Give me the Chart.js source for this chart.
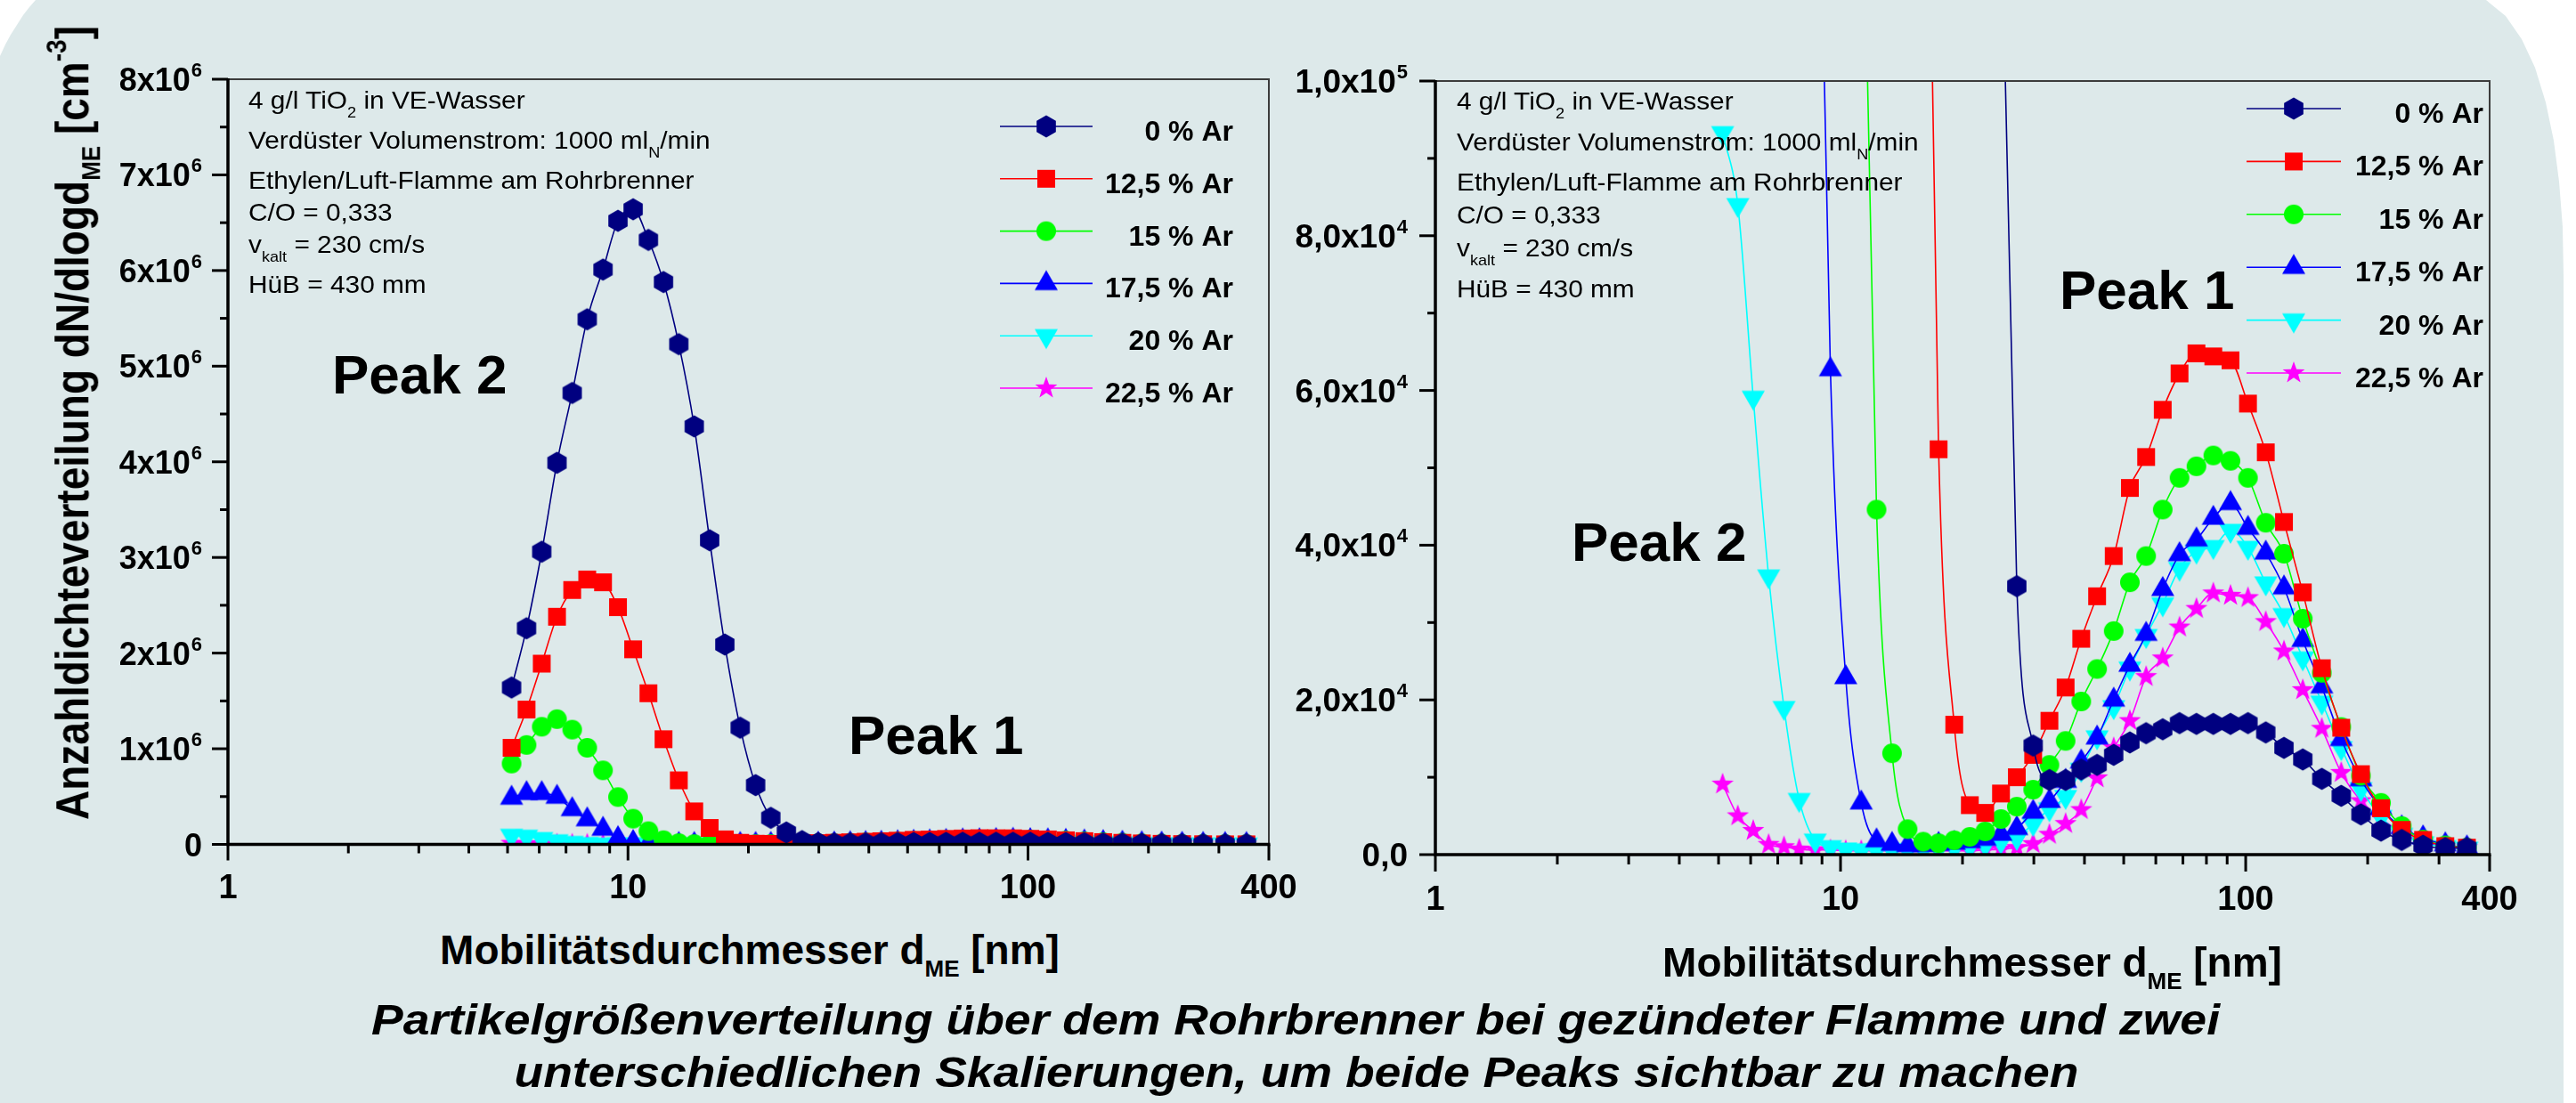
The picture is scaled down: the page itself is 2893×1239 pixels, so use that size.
<!DOCTYPE html>
<html>
<head>
<meta charset="utf-8">
<script src="https://cdn.jsdelivr.net/npm/chart.js@4.4.1/dist/chart.umd.min.js"></script>
<style>
  html, body { margin:0; padding:0; width:2893px; height:1239px; overflow:hidden; background:#ffffff; }
  body { position:relative; font-family:"Liberation Sans", Arial, Helvetica, sans-serif; color:#000; }
  #bg { position:absolute; left:0; top:0; width:2893px; height:1239px; background:#dde9ea;
        clip-path: polygon(0px 63px, 6px 50px, 12px 39px, 19px 28px, 26px 17px, 33px 8px, 40px 0px,
          2792px 0px, 2814px 18px, 2832px 44px, 2847px 76px, 2859px 115px, 2868px 158px, 2874px 204px,
          2878px 255px, 2879px 310px, 2879px 1239px, 0px 1239px); }
  canvas { position:absolute; top:0; }
  .t { position:absolute; white-space:nowrap; line-height:1; }
  .note { font-size:28px; transform-origin:0 50%; transform:scaleX(1.065); }
  .note sub { font-size:17px; vertical-align:-10px; line-height:0; }
  .peak { font-size:62px; font-weight:bold; }
  .xt { font-size:46px; font-weight:bold; transform:translateX(-50%); }
  .xt sub { font-size:26px; vertical-align:-14px; line-height:0; }
  .yt { font-size:46px; font-weight:bold; transform:translate(-50%,-50%) rotate(-90deg) scaleY(1.12); }
  .yt sub { font-size:26px; vertical-align:-12px; line-height:0; }
  .yt sup { font-size:28px; vertical-align:22px; line-height:0; }
  .cap { font-size:48px; font-weight:bold; font-style:italic; }
</style>
</head>
<body>
<div id="bg"></div>
<canvas id="c1" width="1480" height="1040" style="left:0px"></canvas>
<canvas id="c2" width="1453" height="1060" style="left:1440px"></canvas>

<!-- left annotations -->
<div class="t note" style="left:279px;top:99px">4 g/l TiO<sub>2</sub> in VE-Wasser</div>
<div class="t note" style="left:279px;top:144px">Verdüster Volumenstrom: 1000 ml<sub>N</sub>/min</div>
<div class="t note" style="left:279px;top:189px">Ethylen/Luft-Flamme am Rohrbrenner</div>
<div class="t note" style="left:279px;top:225px">C/O = 0,333</div>
<div class="t note" style="left:279px;top:261px">v<sub>kalt</sub> = 230 cm/s</div>
<div class="t note" style="left:279px;top:306px">HüB = 430 mm</div>
<!-- right annotations -->
<div class="t note" style="left:1636px;top:100px">4 g/l TiO<sub>2</sub> in VE-Wasser</div>
<div class="t note" style="left:1636px;top:146px">Verdüster Volumenstrom: 1000 ml<sub>N</sub>/min</div>
<div class="t note" style="left:1636px;top:191px">Ethylen/Luft-Flamme am Rohrbrenner</div>
<div class="t note" style="left:1636px;top:228px">C/O = 0,333</div>
<div class="t note" style="left:1636px;top:265px">v<sub>kalt</sub> = 230 cm/s</div>
<div class="t note" style="left:1636px;top:311px">HüB = 430 mm</div>

<div class="t peak" style="left:373px;top:390px">Peak 2</div>
<div class="t peak" style="left:953px;top:795px">Peak 1</div>
<div class="t peak" style="left:2313px;top:295px">Peak 1</div>
<div class="t peak" style="left:1765px;top:578px">Peak 2</div>

<div class="t xt" style="left:842px;top:1044px">Mobilitätsdurchmesser d<sub>ME</sub> [nm]</div>
<div class="t xt" style="left:2215px;top:1058px">Mobilitätsdurchmesser d<sub>ME</sub> [nm]</div>
<div class="t yt" style="left:81px;top:475px">Anzahldichteverteilung dN/dlogd<sub>ME</sub> [cm<sup>-3</sup>]</div>

<div id="cap1" class="t cap" style="left:1455px;top:1122px">Partikelgrößenverteilung über dem Rohrbrenner bei gezündeter Flamme und zwei</div>
<div id="cap2" class="t cap" style="left:1456px;top:1181px">unterschiedlichen Skalierungen, um beide Peaks sichtbar zu machen</div>

<script>
// ---------------- data ----------------
const diameters = [5.117, 5.578, 6.088, 6.645, 7.253, 7.907, 8.660, 9.441, 10.30, 11.25,
  12.27, 13.40, 14.64, 16.00, 17.46, 19.08, 20.85, 22.75, 24.89, 27.23,
  29.88, 32.77, 35.93, 39.27, 42.97, 47.22, 51.77, 56.78, 62.39, 68.66,
  75.58, 83.18, 91.71, 101.3, 112.1, 124.3, 138.3, 154.1, 172.1, 192.5,
  215.8, 242.7, 274.0, 310.9, 351.5];

const ar0 = [1640000, 2260000, 3060000, 3990000, 4720000, 5490000, 6010000, 6520000, 6640000, 6320000,
  5880000, 5230000, 4370000, 3180000, 2090000, 1220000, 620000, 278000, 125000, 34700,
  14100, 9650, 9650, 11000, 11600, 12900, 14500, 15700, 16200, 17000,
  16900, 16900, 16900, 17000, 15800, 13800, 12300, 9800, 7600, 5200,
  3100, 1900, 1150, 850, 850];

const ar12_5 = [1010000, 1410000, 1890000, 2380000, 2660000, 2770000, 2740000, 2480000, 2040000, 1580000,
  1100000, 670000, 345000, 172000, 52400, 16800, 6400, 5400, 7900, 10000,
  12900, 17300, 21600, 27900, 33400, 38600, 47400, 51400, 57500, 62200,
  64800, 64400, 63900, 58300, 52000, 43000, 33900, 24100, 16400, 10400,
  6000, 3200, 1900, 1100, 900];

const ar15 = [845000, 1040000, 1230000, 1310000, 1200000, 1010000, 774000, 495000, 269000, 139000,
  44600, 13100, 3300, 1670, 1470, 1860, 2300, 3000, 4600, 6200,
  8400, 11600, 14700, 19800, 24000, 28900, 35200, 38600, 44600, 48700,
  50200, 51600, 50900, 48700, 42900, 38900, 30500, 23500, 16500, 10200,
  6700, 3700, 1950, 1200, 900];

const ar17_5 = [485000, 533000, 533000, 495000, 365000, 259000, 160000, 62700, 22900, 6700,
  1800, 1350, 1200, 1200, 1350, 1500, 1700, 2000, 2650, 3400,
  5500, 6900, 9500, 12000, 15100, 20000, 24500, 28500, 34300, 38800,
  40700, 43500, 45400, 42200, 39000, 34500, 27700, 21700, 14900, 9700,
  6000, 3500, 2200, 1300, 900];

const ar20 = [93300, 84000, 59100, 36000, 19000, 7100, 1860, 1000, 700, 600,
  600, 600, 600, 700, 800, 900, 1100, 1300, 1700, 2200,
  4000, 5900, 7500, 11000, 15200, 19100, 24100, 28300, 32400, 37000,
  39200, 39800, 41900, 39700, 35100, 31000, 25400, 19700, 13800, 8500,
  4900, 2600, 1500, 1000, 800];

const ar22_5 = [9100, 5000, 3100, 1300, 1000, 700, 600, 600, 500, 500,
  500, 500, 500, 500, 500, 500, 500, 600, 700, 900,
  1400, 2600, 4000, 5800, 9900, 13800, 17300, 23000, 25400, 29400,
  31800, 33800, 33500, 33200, 30100, 26300, 21300, 16300, 10600, 6950,
  4700, 2850, 1600, 1000, 900];

const seriesLabels = ['0 % Ar', '12,5 % Ar', '15 % Ar', '17,5 % Ar', '20 % Ar', '22,5 % Ar'];

const xTickValues = [1, 2, 3, 4, 5, 6, 7, 8, 9, 10, 20, 30, 40, 50, 60, 70, 80, 90, 100, 200, 300, 400];
const xTickLabels = {1: '1', 10: '10', 100: '100', 400: '400'};

const leftYTickValues = [0, 500000, 1000000, 1500000, 2000000, 2500000, 3000000, 3500000, 4000000,
  4500000, 5000000, 5500000, 6000000, 6500000, 7000000, 7500000, 8000000];
const leftYTickLabels = {0: ['0', ''], 1000000: ['1x10', '6'], 2000000: ['2x10', '6'], 3000000: ['3x10', '6'],
  4000000: ['4x10', '6'], 5000000: ['5x10', '6'], 6000000: ['6x10', '6'], 7000000: ['7x10', '6'], 8000000: ['8x10', '6']};

const rightYTickValues = [0, 10000, 20000, 30000, 40000, 50000, 60000, 70000, 80000, 90000, 100000];
const rightYTickLabels = {0: ['0,0', ''], 20000: ['2,0x10', '4'], 40000: ['4,0x10', '4'],
  60000: ['6,0x10', '4'], 80000: ['8,0x10', '4'], 100000: ['1,0x10', '5']};

// ---------------- styling ----------------
const FONT = '"Liberation Sans", Arial, Helvetica, sans-serif';
const colors = ['#000080', '#ff0000', '#00ff00', '#0000ff', '#00ffff', '#ff00ff'];
const shapes = ['hex', 'square', 'circle', 'tri', 'tridown', 'star'];

function makeMarker(shape, color) {
  const S = 34, c = document.createElement('canvas');
  c.width = S; c.height = S;
  const g = c.getContext('2d');
  g.fillStyle = color;
  g.translate(S / 2, S / 2);
  g.beginPath();
  if (shape === 'hex') {
    const r = 12.5;
    for (let i = 0; i < 6; i++) {
      const a = Math.PI / 2 + i * Math.PI / 3;
      const px = r * Math.cos(a), py = r * Math.sin(a);
      if (i) g.lineTo(px, py); else g.moveTo(px, py);
    }
  } else if (shape === 'square') {
    g.rect(-10, -10, 20, 20);
  } else if (shape === 'circle') {
    g.arc(0, 0, 11, 0, Math.PI * 2);
  } else if (shape === 'tri') {
    g.moveTo(0, -15); g.lineTo(13, 7.5); g.lineTo(-13, 7.5);
  } else if (shape === 'tridown') {
    g.moveTo(0, 15); g.lineTo(13, -7.5); g.lineTo(-13, -7.5);
  } else if (shape === 'star') {
    for (let i = 0; i < 10; i++) {
      const r = i % 2 ? 5.3 : 13;
      const a = -Math.PI / 2 + i * Math.PI / 5;
      const px = r * Math.cos(a), py = r * Math.sin(a);
      if (i) g.lineTo(px, py); else g.moveTo(px, py);
    }
  }
  g.closePath();
  g.fill();
  return c;
}
const markers = shapes.map((s, i) => makeMarker(s, colors[i]));

function makeDatasets() {
  const sets = [ar0, ar12_5, ar15, ar17_5, ar20, ar22_5];
  return sets.map((vals, i) => ({
    label: seriesLabels[i],
    data: diameters.map((d, j) => ({x: d, y: vals[j]})),
    borderColor: colors[i],
    backgroundColor: colors[i],
    borderWidth: 1.6,
    pointStyle: markers[i],
    pointRadius: 12,
    pointHoverRadius: 12,
    tension: 0.4,
    cubicInterpolationMode: 'monotone',
    fill: false
  }));
}

function makeDecor(cfg) {
  return {
    id: 'decor',
    afterDatasetsDraw(chart) {
      const ctx = chart.ctx, a = chart.chartArea, xs = chart.scales.x, ys = chart.scales.y;
      ctx.save();
      // frame top/right
      ctx.strokeStyle = '#3c3c3c'; ctx.lineWidth = 2;
      ctx.beginPath(); ctx.moveTo(a.left, a.top); ctx.lineTo(a.right, a.top); ctx.lineTo(a.right, a.bottom); ctx.stroke();
      // axes
      ctx.strokeStyle = '#000'; ctx.lineWidth = 3.5;
      ctx.beginPath(); ctx.moveTo(a.left, a.top - 1); ctx.lineTo(a.left, a.bottom); ctx.lineTo(a.right + 1.5, a.bottom); ctx.stroke();
      // ticks
      ctx.lineWidth = 3;
      xs.ticks.forEach(t => {
        const px = xs.getPixelForValue(t.value);
        const len = t.major ? cfg.xMajorLen : cfg.xMinorLen;
        ctx.beginPath(); ctx.moveTo(px, a.bottom); ctx.lineTo(px, a.bottom + len); ctx.stroke();
      });
      ys.ticks.forEach(t => {
        const py = ys.getPixelForValue(t.value);
        const len = t.major ? cfg.yMajorLen : cfg.yMinorLen;
        ctx.beginPath(); ctx.moveTo(a.left, py); ctx.lineTo(a.left - len, py); ctx.stroke();
      });
      // x labels
      ctx.fillStyle = '#000';
      ctx.textBaseline = 'alphabetic';
      ctx.textAlign = 'center';
      ctx.font = 'bold ' + cfg.xFont + 'px ' + FONT;
      xs.ticks.forEach(t => {
        const lab = cfg.xLabels[t.value];
        if (lab) ctx.fillText(lab, xs.getPixelForValue(t.value), a.bottom + cfg.xLabelDy);
      });
      // y labels with superscripts
      ctx.textAlign = 'left';
      const baseFont = 'bold ' + cfg.yFont + 'px ' + FONT;
      const supFont = 'bold ' + cfg.supFont + 'px ' + FONT;
      ys.ticks.forEach(t => {
        const lab = cfg.yLabels[t.value];
        if (!lab) return;
        const py = ys.getPixelForValue(t.value) + cfg.yLabelDy;
        ctx.font = baseFont; const wb = ctx.measureText(lab[0]).width;
        ctx.font = supFont; const ws = lab[1] ? ctx.measureText(lab[1]).width + 1 : 0;
        const x0 = a.left - cfg.yLabelGap - ws - wb;
        ctx.font = baseFont; ctx.fillText(lab[0], x0, py);
        if (lab[1]) { ctx.font = supFont; ctx.fillText(lab[1], x0 + wb + 1, py - cfg.supRaise); }
      });
      // legend
      const L = cfg.legend;
      chart.data.datasets.forEach((ds, i) => {
        const y = L.y0 + i * L.dy;
        ctx.strokeStyle = ds.borderColor; ctx.lineWidth = 1.6;
        ctx.beginPath(); ctx.moveTo(L.x1, y); ctx.lineTo(L.x2, y); ctx.stroke();
        const m = ds.pointStyle;
        ctx.drawImage(m, L.xm - m.width / 2, y - m.height / 2);
        ctx.font = 'bold ' + L.font + 'px ' + FONT;
        ctx.textAlign = 'right';
        ctx.fillText(ds.label, L.xr, y + L.textDy);
        ctx.textAlign = 'left';
      });
      ctx.restore();
    }
  };
}

function makeChart(id, o) {
  return new Chart(document.getElementById(id), {
    type: 'line',
    data: {datasets: makeDatasets()},
    options: {
      responsive: false,
      animation: false,
      devicePixelRatio: 1,
      layout: {padding: o.padding},
      plugins: {legend: {display: false}, tooltip: {enabled: false}},
      scales: {
        x: {
          type: 'logarithmic', min: 1, max: 400,
          grid: {display: false}, border: {display: false}, ticks: {display: false},
          afterBuildTicks: s => { s.ticks = xTickValues.map(v => ({value: v, major: (v in xTickLabels)})); },
          afterFit: s => { s.height = o.xHeight; }
        },
        y: {
          type: 'linear', min: 0, max: o.yMax,
          grid: {display: false}, border: {display: false}, ticks: {display: false},
          afterBuildTicks: s => { s.ticks = o.yTicks.map(v => ({value: v, major: (v in o.yLabels)})); },
          afterFit: s => { s.width = o.yWidth; }
        }
      }
    },
    plugins: [makeDecor({
      xLabels: xTickLabels, yLabels: o.yLabels,
      xMajorLen: o.xMajorLen, xMinorLen: o.xMinorLen, yMajorLen: 18, yMinorLen: 9,
      xFont: 38, xLabelDy: o.xLabelDy,
      yFont: o.yFont, supFont: 22, supRaise: 16, yLabelDy: 13, yLabelGap: o.yLabelGap,
      legend: o.legend
    })]
  });
}

makeChart('c1', {
  padding: {left: 0, top: 89, right: 55, bottom: 0},
  xHeight: 91.5, yWidth: 256, yMax: 8000000,
  yTicks: leftYTickValues, yLabels: leftYTickLabels,
  xMajorLen: 18, xMinorLen: 10, xLabelDy: 60, yFont: 36, yLabelGap: 29,
  legend: {x1: 1123, x2: 1227, xm: 1175, xr: 1385, y0: 142, dy: 58.8, font: 32, textDy: 16}
});

makeChart('c2', {
  padding: {left: 0, top: 91, right: 97, bottom: 0},
  xHeight: 100, yWidth: 172, yMax: 100000,
  yTicks: rightYTickValues, yLabels: rightYTickLabels,
  xMajorLen: 19, xMinorLen: 11, xLabelDy: 62, yFont: 37, yLabelGap: 31,
  legend: {x1: 1083, x2: 1189, xm: 1136, xr: 1349, y0: 122, dy: 59.4, font: 32, textDy: 16}
});

// fit caption widths
function fitWidth(id, target) {
  const el = document.getElementById(id);
  el.style.transform = 'none';
  const w = el.getBoundingClientRect().width;
  el.style.transform = 'translateX(-50%) scaleX(' + (target / w) + ')';
}
fitWidth('cap1', 2076);
fitWidth('cap2', 1757);
</script>
</body>
</html>
